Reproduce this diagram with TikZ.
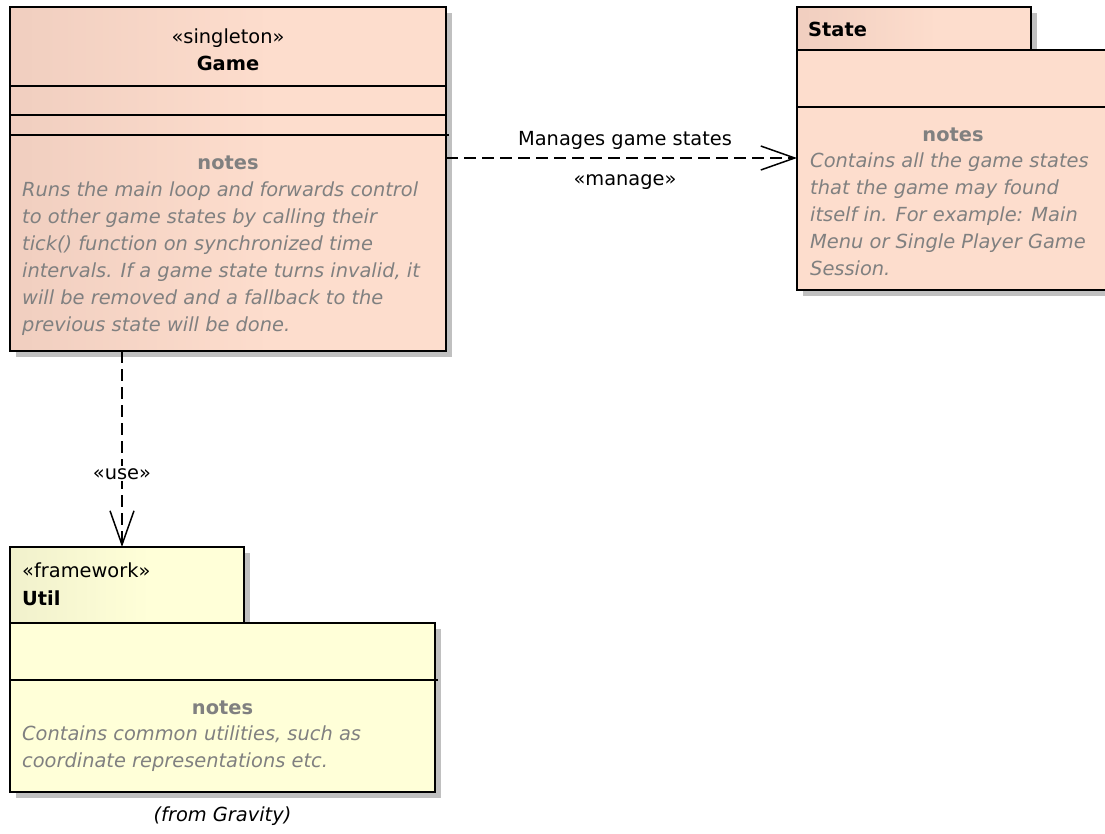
\documentclass[tikz,border=0pt]{standalone}
\usepackage{fontspec}
\setmainfont{DejaVu Sans}
\usepackage{tikz}
\usetikzlibrary{positioning}
\usetikzlibrary{arrows.meta}
\usetikzlibrary{shadows}
\definecolor{game-fill}{RGB}{253,221,205}
\definecolor{game-dark}{RGB}{230,194,180}
\definecolor{util-fill}{RGB}{255,255,216}
\definecolor{util-dark}{RGB}{229,229,194}
\definecolor{note-gray}{RGB}{128,128,128}
\definecolor{shadow-gray}{RGB}{192,192,192}
\pgfdeclarehorizontalshading{game-shade}{100bp}{color(0bp)=(game-dark); color(55bp)=(game-fill); color(100bp)=(game-fill)}
\pgfdeclarehorizontalshading{util-shade}{100bp}{color(0bp)=(util-dark); color(55bp)=(util-fill); color(100bp)=(util-fill)}

\begin{document}
\begin{tikzpicture}[x=1pt, y=-1pt, >={Straight Barb[length=34pt,width=24pt]},
txt/.style={inner sep=0pt, font=\fontsize{19.4}{27}\selectfont},
notehead/.style={txt, anchor=base, text=note-gray, font=\fontsize{19.4}{27}\selectfont\bfseries},
noteline/.style={txt, anchor=base west, text=note-gray, font=\fontsize{19.4}{27}\selectfont\itshape},
box/.style={draw, line width=2pt, fill=#1, outer sep=0pt, inner sep=0pt,
  drop shadow={shadow xshift=6pt, shadow yshift=-6pt, opacity=1, fill=shadow-gray}},
gradbox/.style={box=white, shade, shading=#1},
sep/.style={line width=1.5pt},
dep/.style={line width=1.5pt, dash pattern=on 12pt off 6pt, ->}]

\clip (0,0) rectangle (1105,833);

%% Game
\node [gradbox=game-shade, minimum width=436pt, minimum height=344pt] (game) at (228,179) {};
\draw [sep] (10,86) -- (446,86);
\draw [sep] (10,115) -- (446,115);
\draw [sep] (10,135) -- (449,135);
\node [txt, anchor=base] (gst) at (228,43) {«singleton»};
\node [txt, anchor=base, font=\fontsize{19.4}{27}\selectfont\bfseries] (gname) at (228,70) {Game};
\node [notehead] (gnotes) at (228,169) {notes};
\foreach \t [count=\i] in {{Runs the main loop and forwards control},
  {to other game states by calling their},
  {tick() function on synchronized time},
  {intervals. If a game state turns invalid, it},
  {will be removed and a fallback to the},
  {previous state will be done.}}
  \node [noteline] (gn\i) at (22,{196+27*(\i-1)}) {\t};

%% State
\node [gradbox=game-shade, minimum width=234pt, minimum height=43pt] (sttab) at (914,28.5) {};
\node [box=game-fill, minimum width=312pt, minimum height=240pt] (stbody) at (953,170) {};
\draw [sep] (797,107) -- (1109,107);
\node [txt, anchor=base west, font=\fontsize{19.4}{27}\selectfont\bfseries] (stname) at (808,36) {State};
\node [notehead] (stnotes) at (953,141) {notes};
\foreach \t [count=\i] in {{Contains all the game states},
  {that the game may found},
  {itself in. For example: Main},
  {Menu or Single Player Game},
  {Session.}}
  \node [noteline] (sn\i) at (810,{167+27*(\i-1)}) {\t};

%% Util
\node [gradbox=util-shade, minimum width=234pt, minimum height=76pt] (utab) at (127,585) {};
\node [box=util-fill, minimum width=425pt, minimum height=169pt] (ubody) at (222.5,707.5) {};
\draw [sep] (10,680) -- (438,680);
\node [txt, anchor=base west] (ust) at (22,577) {«framework»};
\node [txt, anchor=base west, font=\fontsize{19.4}{27}\selectfont\bfseries] (uname) at (22,605) {Util};
\node [notehead] (unotes) at (222.5,714) {notes};
\foreach \t [count=\i] in {{Contains common utilities, such as},
  {coordinate representations etc.}}
  \node [noteline] (un\i) at (22,{740+27*(\i-1)}) {\t};
\node [txt, anchor=base, font=\fontsize{19.4}{27}\selectfont\itshape] (ufrom) at (222.5,821) {(from Gravity)};

%% dependencies
\draw [dep] ([yshift=-151pt]game.north east) -- ([yshift=-108pt]stbody.north west);
\node [txt, anchor=base] (mgs) at (625,145) {Manages game states};
\node [txt, anchor=base] (mng) at (625,185) {«manage»};

\draw [dep] ([xshift=112pt]game.south west) -- ([xshift=112pt]utab.north west);
\node [txt, anchor=base, fill=white, inner sep=2pt] (use) at (122,479) {«use»};

\end{tikzpicture}
\end{document}
